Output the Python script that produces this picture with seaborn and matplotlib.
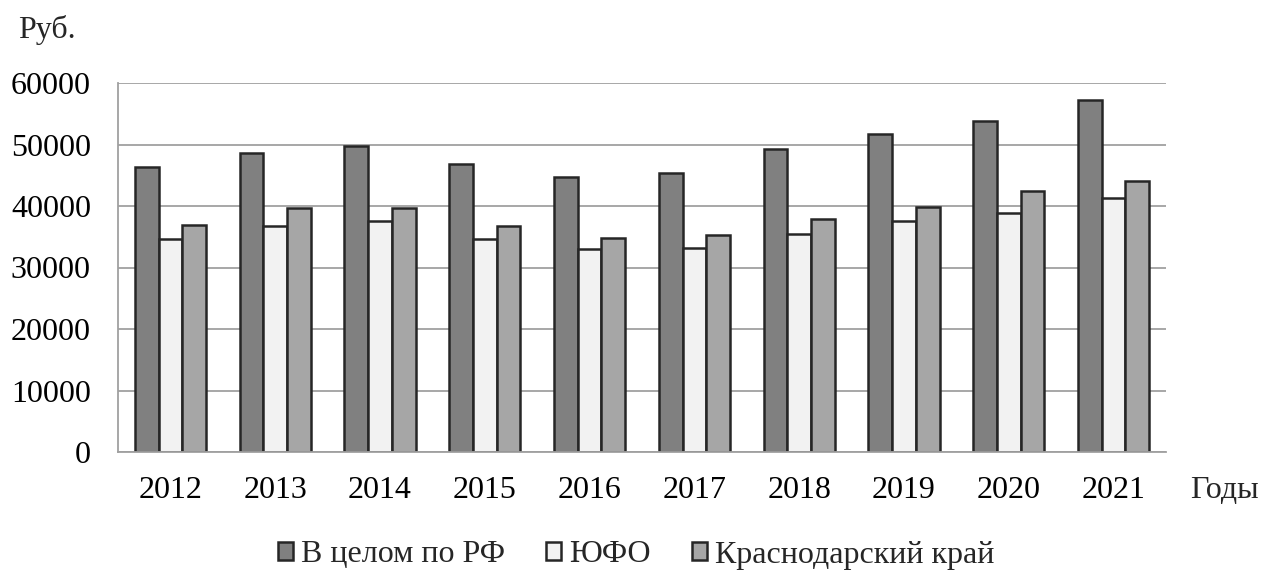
import matplotlib
matplotlib.use("Agg")
import matplotlib.pyplot as plt
import seaborn as sns
import pandas as pd

years = ["2012", "2013", "2014", "2015", "2016", "2017", "2018", "2019", "2020", "2021"]
rf = [46300, 48600, 49800, 46800, 44700, 45300, 49300, 51700, 53900, 57300]
yufo = [34700, 36700, 37500, 34700, 33000, 33200, 35500, 37500, 38800, 41300]
krasnodar = [36900, 39600, 39600, 36800, 34800, 35300, 37900, 39800, 42400, 44100]
series_names = ["В целом по РФ", "ЮФО", "Краснодарский край"]
yticks = [0, 10000, 20000, 30000, 40000, 50000, 60000]

df = pd.DataFrame({
    "year": years * 3,
    "value": rf + yufo + krasnodar,
    "series": [series_names[0]] * len(years) + [series_names[1]] * len(years) + [series_names[2]] * len(years),
})

sns.set_theme(style="white")
plt.rcParams["font.family"] = ["Liberation Serif", "DejaVu Serif"]

FS = 23
fig = plt.figure(figsize=(12.72, 5.77), dpi=100)
ax = fig.add_axes([118 / 1272, 1 - 452 / 577, (1166 - 118) / 1272, (452 - 83) / 577])

palette = {series_names[0]: "#808080", series_names[1]: "#f2f2f2", series_names[2]: "#a6a6a6"}
sns.barplot(data=df, x="year", y="value", hue="series", palette=palette, order=years,
            hue_order=series_names, width=0.68, edgecolor="#262626", linewidth=1.8,
            saturation=1, ax=ax, legend=True)

ax.set_ylim(0, 60000)
ax.set_yticks(yticks)
ax.set_yticklabels([str(v) for v in yticks], fontsize=FS)
ax.set_xlim(-0.5, len(years) - 0.5)
ax.tick_params(axis="x", length=0, pad=17, labelsize=FS, colors="black")
ax.tick_params(axis="y", length=6.5, width=1.3, color="#a0a0a0", pad=13, labelsize=FS, colors="black")
ax.grid(axis="y", color="#a0a0a0", linewidth=1.3)
ax.set_axisbelow(True)
for s in ["top", "right"]:
    ax.spines[s].set_visible(False)
for s in ["left", "bottom"]:
    ax.spines[s].set_color("#a0a0a0")
    ax.spines[s].set_linewidth(1.3)
ax.set_xlabel("")
ax.set_ylabel("")

handles, labels = ax.get_legend_handles_labels()
ax.get_legend().remove()
fig.legend(handles, labels, loc="center", bbox_to_anchor=(0.5, 1 - 555 / 577), ncol=3,
           frameon=False, fontsize=FS, handlelength=0.47, handleheight=0.47,
           handletextpad=0.25, columnspacing=1.28, borderpad=0)

fig.text(18 / 1272, 1 - 30 / 577, "Руб.", fontsize=FS, ha="left", va="center")
fig.text(1190 / 1272, 1 - 490 / 577, "Годы", fontsize=FS, ha="left", va="center")

fig.savefig("out.png", dpi=100)
